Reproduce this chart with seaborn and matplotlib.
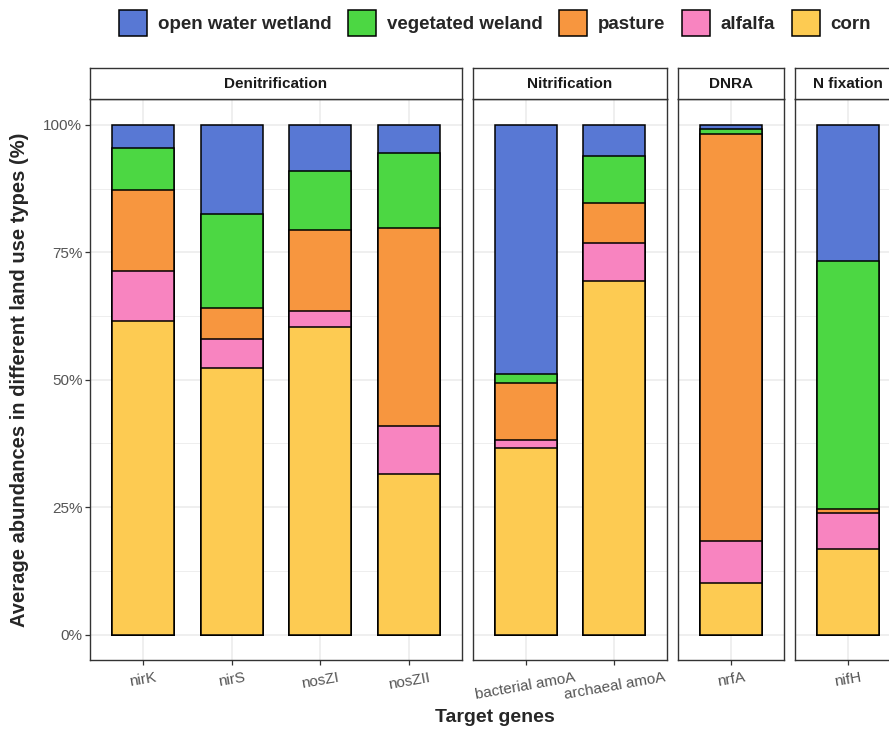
import matplotlib
matplotlib.use("Agg")
import matplotlib.pyplot as plt
from matplotlib.patches import Patch
from matplotlib.ticker import FixedLocator, FuncFormatter
import pandas as pd
import seaborn as sns

# ---- data -------------------------------------------------------------
genes = ["nirK", "nirS", "nosZI", "nosZII",
         "bacterial amoA", "archaeal amoA", "nrfA", "nifH"]
processes = ["Denitrification"] * 4 + ["Nitrification"] * 2 + ["DNRA", "N fixation"]
process_order = ["Denitrification", "Nitrification", "DNRA", "N fixation"]

land_uses = ["open water wetland", "vegetated weland", "pasture", "alfalfa", "corn"]
open_water = [4.5, 17.5, 9.0, 5.6, 48.9, 6.1, 0.8, 26.8]
vegetated = [8.3, 18.4, 11.6, 14.7, 1.8, 9.3, 1.0, 48.6]
pasture = [15.9, 6.1, 15.9, 38.7, 11.1, 7.8, 79.9, 0.8]
alfalfa = [9.8, 5.7, 3.1, 9.6, 1.6, 7.5, 8.2, 7.0]
corn = [61.5, 52.3, 60.4, 31.4, 36.6, 69.3, 10.1, 16.8]
land_colors = ["#5878D4", "#4CD743", "#F7963F", "#F884C0", "#FDCB52"]

series = dict(zip(land_uses, [open_water, vegetated, pasture, alfalfa, corn]))

# long table; stacking runs from corn (bottom) to open water (top)
rows = []
for i, g in enumerate(genes):
    running = 0.0
    for lu in reversed(land_uses):
        running += series[lu][i]
        rows.append({"gene": g, "process": processes[i], "land": lu,
                     "value": series[lu][i], "top": running})
df = pd.DataFrame(rows)

# ---- style --------------------------------------------------------------
sns.set_theme(style="white")
plt.rcParams["font.family"] = ["Liberation Sans", "DejaVu Sans"]

W, H = 889, 729
fig = plt.figure(figsize=(W / 100, H / 100), dpi=100)

unit = 88.6          # px per category step
gap = 10.4           # px between facets
x0 = 90.0
panel_top, panel_bot = 99.3, 660.0
strip_top = 68.3
border = "#333333"
grid_c = "#EBEBEB"

left = x0
for k, proc in enumerate(process_order):
    sub = df[df["process"] == proc]
    order = [g for g, p in zip(genes, processes) if p == proc]
    n = len(order)
    width_px = (n + 0.2) * unit

    ax = fig.add_axes([left / W, 1 - panel_bot / H,
                       width_px / W, (panel_bot - panel_top) / H])
    # draw tallest cumulative layer first so lower layers sit on top of it
    for lu, col in zip(land_uses, land_colors):
        layer = sub[sub["land"] == lu]
        sns.barplot(data=layer, x="gene", y="top", order=order, ax=ax,
                    color=col, saturation=1, width=0.7, errorbar=None,
                    edgecolor="black", linewidth=1.1, zorder=3)

    ax.set_xlim(-0.6, n - 0.4)
    ax.set_ylim(-5, 105)
    ax.yaxis.set_major_locator(FixedLocator([0, 25, 50, 75, 100]))
    ax.yaxis.set_minor_locator(FixedLocator([12.5, 37.5, 62.5, 87.5]))
    ax.yaxis.set_major_formatter(FuncFormatter(lambda v, _: f"{v:.0f}%"))
    ax.xaxis.set_minor_locator(FixedLocator([]))
    ax.grid(which="major", color=grid_c, lw=1.1, zorder=0)
    ax.grid(which="minor", axis="y", color=grid_c, lw=0.6, zorder=0)
    ax.set_axisbelow(True)
    ax.set_xlabel("")
    ax.set_ylabel("")
    for sp in ax.spines.values():
        sp.set_color(border)
        sp.set_linewidth(1.0)

    ax.tick_params(axis="x", which="major", bottom=True, length=3.5, width=0.9,
                   color=border, pad=4, labelsize=11, labelcolor="#555555")
    for lab in ax.get_xticklabels():
        lab.set_rotation(10)
        lab.set_ha("center")
    if k == 0:
        ax.tick_params(axis="y", which="major", left=True, length=3.5, width=0.9,
                       color=border, pad=2, labelsize=11, labelcolor="#555555")
        ax.tick_params(axis="y", which="minor", left=False)
    else:
        ax.tick_params(axis="y", which="both", left=False, labelleft=False)

    # facet strip
    sax = fig.add_axes([left / W, 1 - panel_top / H,
                        width_px / W, (panel_top - strip_top) / H])
    sax.set_xticks([])
    sax.set_yticks([])
    sax.set_facecolor("white")
    for sp in sax.spines.values():
        sp.set_color(border)
        sp.set_linewidth(1.0)
    sax.text(0.5, 0.5, proc, transform=sax.transAxes, ha="center", va="center",
             fontsize=11, fontweight="bold", color="#1A1A1A")

    left += width_px + gap

# axis titles
fig.text(20 / W, 1 - 380 / H, "Average abundances in different land use types (%)",
         rotation=90, ha="center", va="center", fontsize=14.5, fontweight="bold")
fig.text(495 / W, 1 - 717 / H, "Target genes", ha="center", va="center",
         fontsize=14, fontweight="bold")

# legend across the top
handles = [Patch(facecolor=c, edgecolor="black", linewidth=1.1, label=l)
           for l, c in zip(land_uses, land_colors)]
fig.legend(handles=handles, loc="center", bbox_to_anchor=(495 / W, 1 - 23 / H),
           ncol=5, frameon=False, prop={"size": 13.5, "weight": "bold"},
           handlelength=1.5, handleheight=1.7, handletextpad=0.55,
           columnspacing=0.9, borderpad=0, borderaxespad=0)

fig.savefig("out.png", dpi=100, facecolor="white")
